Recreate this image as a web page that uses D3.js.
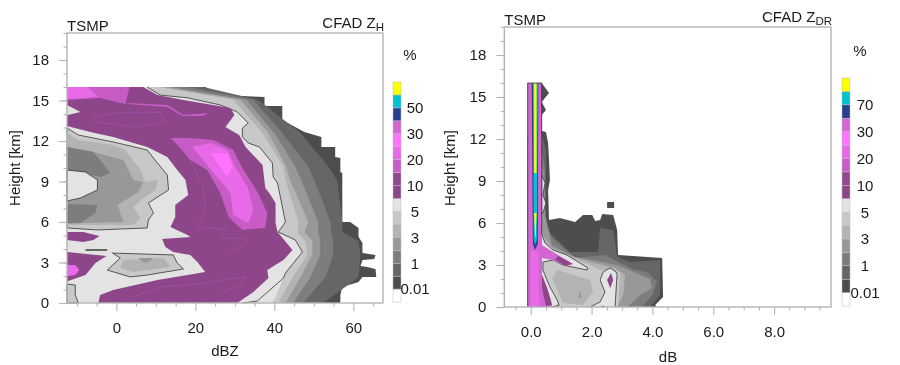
<!DOCTYPE html>
<html>
<head>
<meta charset="utf-8">
<script src="https://cdn.jsdelivr.net/npm/d3@7"></script>
<style>
  html, body { margin: 0; background: #fff; }
  #chart { filter: blur(0.4px); }
  text { font-family: "Liberation Sans", sans-serif; fill: #1a1a1a; }
</style>
</head>
<body>
<svg id="chart" width="900" height="365"></svg>
<script>
// colour bar, bottom box to top box
const barColors = ["#ffffff", "#4d4d4d", "#666666", "#7d7d7d", "#989898", "#b3b3b3", "#c8c8c8", "#e3e3e3",
  "#8c4689", "#8e4a8e", "#c75cc7", "#e86ae8", "#ff73ff", "#d466d4", "#26408f", "#00c4cc", "#ffff00"]
const barLabelsZh = ["0.01", "1", "3", "5", "10", "20", "30", "50"]
const barLabelsZdr = ["0.01", "1", "3", "5", "10", "20", "30", "70"]

const heightMajor = [0, 3, 6, 9, 12, 15, 18]
const heightMinor = d3.range(0, 21)
const dbzMajor = [0, 20, 40, 60]
const dbzMinor = [-10, -5, 5, 10, 15, 25, 30, 35, 45, 50, 55, 65]
const dbMajor = [0, 2, 4, 6, 8]
const dbMinor = [-0.5, 0.5, 1, 1.5, 2.5, 3, 3.5, 4.5, 5, 5.5, 6.5, 7, 7.5, 8.5, 9, 9.5]

// ---- ZH panel: [dBZ, km] ----
const zhEnvelope = [[22.5, 16], [26.3, 15.4], [37.5, 15.26], [37.5, 14.6], [42, 14.6], [42, 13.56], [47.6, 12.67], [51.9, 12.3],
  [51.9, 11.56], [55.4, 11.56], [55.4, 10.81], [56.7, 10.74], [56.7, 9.7], [57.2, 9.63], [57.2, 6], [59.2, 6], [61.3, 5.56], [61.3, 4.9],
  [62.3, 4.44], [62.3, 3.7], [65.6, 3.56], [65.3, 3.26], [62.3, 3.19], [61.8, 2.74], [63.5, 2.67], [65.6, 2.52], [65.8, 1.93],
  [62.3, 1.93], [61.3, 1.56], [57.2, 1.19], [56.7, 0.59], [56.7, 0]]
const zhBandKm = [0, 1.9, 3.55, 4.6, 5.25, 6, 9.1, 10.1, 12.6, 15.05, 16]
const zhBand66 = [52.4, 61.3, 61.8, 61.3, 57.2, 57.2, 55.9, 53.7, 46.6, 35.9, 22]
const zhBand7d = [47.3, 52.9, 54.9, 54.9, 54.4, 54.2, 50.1, 48.6, 42, 34.7, 18]
const zhBand98 = [44.8, 49.1, 51.6, 51.6, 51.1, 51.1, 46.8, 45.3, 40, 32.9, 13.7]
const zhBandB3 = [42.8, 46.6, 49.6, 49.6, 47.6, 48.6, 44, 43, 38.5, 31.4, 11.9]
const zhBandC8 = [41, 44.6, 48.4, 47.8, 45.8, 46.1, 42.8, 42.3, 37, 29.6, 10.6]

const zhContour = [[7.8, 16], [11.1, 15.4], [18, 15.2], [26.3, 14.67], [30.6, 14.15], [33.4, 13.33], [31.9, 12.96], [31.9, 12.3],
  [33.4, 11.85], [36.2, 11.56], [39.5, 10.37], [39.7, 9.33], [40.8, 8.89], [42.8, 6], [41, 5.26], [45.3, 4.67], [47.1, 3.78],
  [42.8, 2.22], [42.3, 1.85], [35.7, 0.15], [32.2, 0]]
const zhLightBottom = [[42.8, 2.22], [42.3, 1.85], [40.5, 0.6], [39.5, 0], [32, 0]]
const zhPurple = [[6.8, 16], [10.4, 15.4], [17, 15.04], [28.9, 14.44], [29.9, 13.93], [27.6, 13.04], [31.1, 12.44], [32.7, 11.56],
  [37, 10.22], [37.7, 8.52], [38.7, 8.15], [40.3, 7.41], [40.3, 5.93], [40.8, 5.26], [44.6, 3.93], [42.3, 3.19], [38.2, 2.44],
  [38.5, 1.85], [34.7, 0.81], [30.6, 0]]
const zhHole = [[-12.5, 13.11], [-6.6, 12.67], [-0.8, 12.3], [7.8, 11.56], [12.9, 10.81], [15.4, 9.85], [17.5, 9.11], [18.2, 8],
  [14.9, 7.26], [14.9, 6.37], [13.7, 5.63], [18, 5.04], [18.7, 4.89], [11.6, 4.74], [12.4, 4.15], [14.4, 3.78], [18.7, 3.56],
  [20.5, 3.04], [22.5, 2.3], [18, 2.07], [10.4, 1.7], [-0.8, 0.96], [-4.1, 0.59], [-4.6, 0], [-12.5, 0]]
const zhWedge = [[-12.5, 14.67], [-9.1, 14.15], [-12.2, 13.93], [-12.5, 13.93]]
const zhBlob1 = [[-12.5, 5.26], [-8.4, 5.26], [-4.3, 4.96], [-5.8, 4.67], [-8.4, 4.52], [-12.5, 4.67]]
const zhBlob2 = [[-12.5, 3.78], [-2.5, 3.48], [-5.3, 2.96], [-7.8, 2.07], [-12.2, 1.63], [-12.5, 1.56]]
const zhBlob2Pink = [[-12.5, 2.81], [-10.4, 2.81], [-9.4, 2.44], [-10.4, 2.07], [-12.2, 2], [-12.5, 2]]
const zhGrayC8 = [[-12.5, 12.96], [-9.6, 12.44], [-0.8, 11.93], [7.8, 11.33], [10.4, 10.37], [12.9, 9.48], [13.2, 8.37], [8.1, 7.41],
  [9.4, 6.67], [8.1, 6.15], [7.8, 5.56], [-4.8, 5.41], [-12.5, 5.56]]
const zhGrayB3 = [[-12.5, 12.59], [-9.6, 12.07], [-0.8, 11.7], [2.3, 11.33], [6.1, 9.85], [7.3, 8.96], [10.4, 9.11], [9.9, 8.37],
  [6.8, 7.78], [4.3, 7.11], [6.1, 6.3], [4.3, 5.78], [-12.5, 5.78]]
const zhGray98 = [[-12.5, 11.56], [-5.8, 11.19], [1.8, 10.59], [4.3, 9.11], [6.8, 8.96], [5.6, 8.22], [0.3, 7.26], [1.8, 6],
  [-8.4, 5.93], [-12.5, 5.85]]
const zhGray7dTop = [[-12.5, 11.56], [-5.8, 11.19], [-1.5, 9.63], [-4, 9.33], [-12.5, 9.85]]
const zhGray7dLow = [[-12.5, 7.33], [-4.8, 7.26], [-5.3, 6.67], [-9.1, 5.93], [-12.5, 5.93]]
const zhInnerLight = [[-12.5, 9.85], [-7.8, 9.7], [-4.8, 9.11], [-4.8, 8.37], [-9.1, 7.78], [-12.5, 7.56]]
const zhLowC8 = [[-1, 3.7], [14.4, 3.56], [15.4, 2.96], [17, 2.52], [7.8, 2.07], [3.5, 1.93], [-2.3, 2.44], [1, 3.33]]
const zhLowB3 = [[1.8, 3.19], [11.9, 3.33], [13.7, 2.67], [4.3, 2.3], [1, 2.59]]
const zhLow98 = [[5.6, 3.33], [9.4, 3.33], [7.8, 2.96], [6.6, 3.04]]
const zhStreak = [[-7.8, 4], [-2.3, 4], [-2.3, 3.85], [-7.8, 3.85]]
const zhCorner = [[-12.5, 1.41], [-10.4, 1.33], [-10.4, 0.59], [-9.6, 0], [-12.5, 0]]
const zhTopPink = [[-12.5, 16], [3.3, 16], [2.3, 14.74], [-4.1, 15.19], [-12.5, 15.04]]
const zhTopBright = [[-12.5, 16], [-7.3, 16], [-4.6, 15.26], [-12.5, 15.11]]
const zhTopStreak = [[2.8, 14.81], [12.9, 14.67], [17, 13.93], [23.3, 14.07], [22, 13.85], [16.7, 13.85], [12.9, 14.52], [2.8, 14.74]]
const zhCoreOuter = [[13.7, 12.22], [18.7, 12.22], [24.6, 12.07], [29.6, 11.33], [31.9, 10], [35.9, 8.15], [38.2, 6.67], [37.7, 5.56],
  [31.9, 5.41], [28.4, 6.37], [26.3, 8.15], [23, 9.85], [18.7, 10.59], [16.2, 11.48]]
const zhCoreMid = [[19.2, 11.56], [23.8, 11.85], [28.1, 11.33], [30.1, 10.07], [33.2, 8.59], [34.7, 6.89], [33.4, 5.93], [29.6, 6.52],
  [28.9, 8.15], [24.6, 9.63], [22, 10.59]]
const zhCoreInner = [[23.8, 11.11], [28.1, 11.11], [29.4, 10.07], [28.1, 9.33], [25.6, 10.37]]
const zhFaint1 = [[-5.8, 13.78], [-0.8, 14.07], [11.1, 14.15], [12.4, 13.41], [5.3, 13.04], [-5.3, 13.41]]
const zhFaint2 = [[26.3, 4.81], [33.2, 4.81], [33.2, 4.44], [28.9, 3.78]]
const zhFaint3 = [[4.3, 0.44], [11.1, 1.19], [23, 1.48], [26.3, 1.7], [32.7, 1.93], [31.4, 1.33], [26.3, 0.74]]
const zhFaint4 = [[17, 11.56], [22, 8.59], [22.5, 6.89], [20.5, 5.63], [28.1, 5.41]]

// ---- ZDR panel: [dB, km] ----
const zdrEnvelope = [[0.36, 16], [0.6, 15.29], [0.36, 14.64], [0.5, 14.07], [0.36, 13.71], [0.36, 12.57], [0.5, 12.5], [0.57, 11.71],
  [0.6, 10.5], [0.63, 9.07], [0.57, 8.36], [0.6, 6.21], [0.96, 6.36], [1.46, 6.07], [1.72, 6.57], [2.02, 6.57], [2.12, 6.14],
  [2.28, 6.21], [2.35, 6.64], [2.71, 6.57], [2.84, 5.5], [2.87, 3.71], [3.6, 3.6], [4.32, 3.5], [4.35, 0.71], [4.09, 0.14], [4.15, 0],
  [-0.1, 0], [-0.1, 16]]
const zdrFloater = [[2.51, 7.5], [2.74, 7.5], [2.74, 7.07], [2.51, 7.07]]
const zdrBand66 = [[0.36, 12.29], [0.5, 11.21], [0.5, 8.71], [0.5, 6.57], [0.63, 5.29], [1.29, 3.93], [2.21, 3.93], [2.28, 5.64],
  [2.71, 5.5], [2.84, 3.57], [3.27, 3.21], [4.25, 3.36], [4.25, 0.86], [3.92, 0], [-0.1, 0], [-0.1, 12.29]]
const zdrBand7d = [[0.36, 11.21], [0.47, 9.79], [0.47, 6.07], [0.7, 4.93], [1.46, 3.5], [2.44, 3.71], [2.87, 3.21], [3.43, 2.64],
  [3.83, 2.5], [4.15, 1.79], [3.99, 0.86], [3.66, 0], [-0.1, 0], [-0.1, 11.21]]
const zdrBand98 = [[0.36, 10.14], [0.44, 9.4], [0.47, 6.5], [0.7, 4.4], [1.46, 3.57], [2.84, 3], [3.92, 2], [3.99, 1.36], [3.6, 0.86],
  [3.17, 0], [-0.1, 0], [-0.1, 10.14]]
const zdrBandB3 = [[0.4, 5.14], [0.7, 4.21], [1.39, 3.57], [1.95, 3.21], [2.77, 2.79], [3.1, 2.29], [3.04, 0.86], [2.84, 0], [-0.1, 0],
  [-0.1, 5.14]]
const zdrBandC8 = [[0.4, 4.79], [0.7, 4], [1.29, 3.5], [1.95, 3], [2.28, 2.64], [2.94, 2.5], [2.87, 0], [-0.1, 0], [-0.1, 4.79]]
const zdrInnerB3 = [[0.87, 2.64], [1.95, 1.93], [2.05, 1.07], [1.72, 0.14], [1.06, 0.29], [0.7, 2.07]]
const zdrInner98 = [[1.62, 1.14], [1.69, 0.71], [1.56, 0.64]]
const zdrContourMain = [[0.37, 5.14], [0.47, 4.57], [0.73, 4.07], [1.19, 3.71], [1.88, 2.79], [1.85, 2.64], [1.06, 3], [0.73, 3.36],
  [0.4, 3.21], [0.4, 2.64], [0.63, 1.43], [0.87, 0.5], [0.93, 0.14], [0.7, 0]]
const zdrContourSpot = [[1.95, 0], [2.28, 0.36], [2.44, 1.07], [2.28, 1.93], [2.38, 2.5], [2.61, 2.79], [2.84, 2.43], [2.77, 0]]
const zdrSpotPurple = [[2.64, 2.43], [2.71, 1.93], [2.61, 1.36], [2.51, 1.93]]
const zdrBottomPurple = [[2.28, 0], [2.38, 0.1], [2.44, 0]]
const zdrContourUpper = [[0.36, 9.43], [0.47, 8.86], [0.4, 8], [0.5, 7.43], [0.4, 6.71], [0.36, 6.71]]
const zdrPink = [[-0.1, 16], [0.36, 16], [0.37, 4.43], [0.63, 4.07], [1.06, 3.5], [1.29, 3.21], [1.13, 2.93], [0.73, 3.36], [0.37, 3.5],
  [0.37, 2.29], [0.63, 0.71], [0.7, 0.07], [0.7, 0], [-0.1, 0]]
const zdrPinkCore = [[0, 4], [0.25, 4], [0.25, 1.5], [0.3, 0], [0, 0]]
const zdrStripe = [[0.37, 2.29], [0.54, 1.36], [0.7, 0.14], [0.5, 0.07], [0.37, 1.36]]
const zdrTip = [[0.9, 3.64], [1.39, 3.07], [1.13, 2.93], [0.8, 3.4]]
const zdrNavy = [[0.03, 16], [0.25, 16], [0.23, 4.5], [0.14, 4.07], [0.07, 4.5]]
const zdrCyan = [[0.07, 16], [0.23, 16], [0.2, 4.8], [0.14, 4.43], [0.1, 4.8]]
const zdrYellowTop = [[0.11, 16], [0.19, 16], [0.19, 9.57], [0.11, 9.57]]
const zdrYellowLow = [[0.11, 6.71], [0.19, 6.71], [0.16, 5], [0.14, 5]]
const zdrColumnLeft = [[-0.1, 0], [-0.1, 16], [0.36, 16], [0.36, 5.14]]

const [WHITE, G4D, G66, G7D, G98, GB3, GC8, GE3, PUR1, PUR2, PINK1, PINK2, PINK3, PINK4, NAVY, CYAN, YELLOW] = barColors
const LINE = "#333333"
const FRAME = "#b4b4b4"

const svg = d3.select("#chart")

// edge values by height, top row first
const profile = (km, edge) => km.map((h, i) => [edge[i], h]).reverse()
// close a polygon against the left side of the ZH panel
const toLeft = (pts, xMin) => [...pts, [xMin, 0], [xMin, pts[0][1]]]

function drawPanel(p) {
  const x = d3.scaleLinear().domain(p.xDomain).range(p.xRange)
  const y = d3.scaleLinear().domain([0, 20]).range(p.yRange)
  const g = svg.append("g")
  const line = d3.line().x((d) => x(d[0])).y((d) => y(d[1]))

  g.append("g").selectAll("path")
    .data(p.layers)
    .join("path")
    .attr("d", (d) => line(d.pts) + (d.open ? "" : "Z"))
    .attr("fill", (d) => d.fill || "none")
    .attr("stroke", (d) => d.stroke || "none")
    .attr("stroke-width", (d) => d.sw || 0.8)
    .attr("stroke-opacity", (d) => d.so || 1)
    .attr("stroke-linejoin", "round")

  const left = p.xRange[0]
  const bottom = p.yRange[0]
  const styleAxis = (a) => {
    a.select(".domain").remove()
    a.selectAll("line").attr("stroke", FRAME).attr("stroke-width", 1.1)
  }

  g.append("g").attr("transform", `translate(${left},0)`)
    .call(d3.axisLeft(y).tickValues(heightMinor).tickSize(3.5).tickFormat(""))
    .call(styleAxis)
  g.append("g").attr("transform", `translate(${left},0)`)
    .call(d3.axisLeft(y).tickValues(heightMajor).tickSize(8).tickPadding(10))
    .call(styleAxis)
    .call((a) => a.selectAll("text").attr("font-size", 15))
  g.append("g").attr("transform", `translate(0,${bottom})`)
    .call(d3.axisBottom(x).tickValues(p.xMinor).tickSize(3.5).tickFormat(""))
    .call(styleAxis)
  g.append("g").attr("transform", `translate(0,${bottom})`)
    .call(d3.axisBottom(x).tickValues(p.xMajor).tickSize(8).tickPadding(11).tickFormat(p.xFormat))
    .call(styleAxis)
    .call((a) => a.selectAll("text").attr("font-size", 15))

  g.append("rect")
    .attr("x", left).attr("y", p.yRange[1])
    .attr("width", p.xRange[1] - left).attr("height", bottom - p.yRange[1])
    .attr("fill", "none").attr("stroke", FRAME).attr("stroke-width", 1.4)

  g.append("text").attr("x", left).attr("y", p.yRange[1] - 2.5).attr("font-size", 15).text("TSMP")
  const title = g.append("text").attr("x", p.xRange[1] + 1).attr("y", p.yRange[1] - 5)
    .attr("text-anchor", "end").attr("font-size", 15)
  title.append("tspan").text("CFAD Z")
  title.append("tspan").attr("font-size", 11.5).attr("dy", 3).text(p.sub)

  g.append("text").attr("x", p.xLabelAt).attr("y", p.xLabelY).attr("text-anchor", "middle").attr("font-size", 15).text(p.xLabel)
  g.append("text")
    .attr("transform", `translate(${p.yLabelX},${p.yLabelY}) rotate(-90)`)
    .attr("text-anchor", "middle").attr("font-size", 15).text("Height [km]")

  // colour bar
  const band = d3.scaleBand().domain(d3.range(barColors.length)).range(p.barY)
  g.append("g").selectAll("rect")
    .data(barColors)
    .join("rect")
    .attr("x", p.barX).attr("y", (d, i) => band(i))
    .attr("width", 8).attr("height", band.bandwidth())
    .attr("fill", (d) => d)
    .attr("stroke", "#bdbdbd").attr("stroke-width", 0.5)
  // labels sit on the top edge of every other box
  g.append("g").selectAll("text")
    .data(p.barLabels)
    .join("text")
    .attr("x", p.barLabelX)
    .attr("y", (d, i) => band(2 * i))
    .attr("dy", "0.36em")
    .attr("text-anchor", "middle").attr("font-size", 15)
    .text((d) => d)
  g.append("text").attr("x", p.barLabelX - 5).attr("y", p.barY[1] - 22).attr("text-anchor", "middle").attr("font-size", 15).text("%")
}

const zhMin = -12.5
const zhLayers = [
  {pts: zhEnvelope.concat([[zhMin, 0], [zhMin, 16]]), fill: G4D},
  {pts: toLeft(profile(zhBandKm, zhBand66), zhMin), fill: G66},
  {pts: toLeft(profile(zhBandKm, zhBand7d), zhMin), fill: G7D},
  {pts: toLeft(profile(zhBandKm, zhBand98), zhMin), fill: G98},
  {pts: toLeft(profile(zhBandKm, zhBandB3), zhMin), fill: GB3},
  {pts: toLeft(profile(zhBandKm, zhBandC8), zhMin), fill: GC8},
  {pts: toLeft(zhContour, zhMin), fill: GE3},
  {pts: toLeft(zhLightBottom, zhMin), fill: GE3},
  {pts: zhContour, stroke: LINE, open: true},
  {pts: toLeft(zhPurple, zhMin), fill: PUR1},
  {pts: zhHole, fill: GE3},
  {pts: zhWedge, fill: GE3},
  {pts: zhBlob1, fill: PUR1},
  {pts: zhBlob2, fill: PUR1},
  {pts: zhBlob2Pink, fill: PINK2},
  {pts: zhGrayC8, fill: GC8, stroke: LINE},
  {pts: zhGrayB3, fill: GB3},
  {pts: zhGray98, fill: G98},
  {pts: zhGray7dTop, fill: G7D},
  {pts: zhGray7dLow, fill: G7D},
  {pts: zhInnerLight, fill: GE3, stroke: LINE},
  {pts: zhLowC8, fill: GC8, stroke: LINE},
  {pts: zhLowB3, fill: GB3},
  {pts: zhLow98, fill: G98},
  {pts: zhStreak, fill: G66},
  {pts: zhCorner, fill: GC8, stroke: LINE},
  {pts: zhTopPink, fill: PINK1},
  {pts: zhTopBright, fill: PINK2},
  {pts: zhTopStreak, fill: PINK1},
  {pts: zhCoreOuter, fill: PINK1},
  {pts: zhCoreMid, fill: PINK2},
  {pts: zhCoreInner, fill: PINK3},
  {pts: zhFaint1, stroke: PINK1, sw: 0.6, so: 0.6},
  {pts: zhFaint2, stroke: PINK1, sw: 0.6, so: 0.6, open: true},
  {pts: zhFaint3, stroke: PINK1, sw: 0.6, so: 0.6, open: true},
  {pts: zhFaint4, stroke: PINK1, sw: 0.6, so: 0.6, open: true},
]

const zdrLayers = [
  {pts: zdrEnvelope, fill: G4D},
  {pts: zdrFloater, fill: G4D},
  {pts: zdrBand66, fill: G66},
  {pts: zdrBand7d, fill: G7D},
  {pts: zdrBand98, fill: G98},
  {pts: zdrBandB3, fill: GB3},
  {pts: zdrBandC8, fill: GC8},
  {pts: zdrInnerB3, fill: GB3},
  {pts: zdrInner98, fill: G98},
  {pts: zdrContourSpot, fill: GE3},
  {pts: zdrContourSpot, stroke: LINE, open: true},
  {pts: zdrSpotPurple, fill: PUR1},
  {pts: zdrBottomPurple, fill: PUR1},
  {pts: zdrContourMain.concat([[-0.1, 0], [-0.1, 5.14]]), fill: GE3},
  {pts: zdrContourMain, stroke: LINE, open: true},
  {pts: zdrContourUpper, fill: GE3, stroke: LINE},
  {pts: zdrPink, fill: PINK4},
  {pts: zdrPinkCore, fill: PINK2},
  {pts: zdrStripe, fill: PUR1},
  {pts: zdrTip, fill: PUR1},
  {pts: zdrNavy, fill: NAVY},
  {pts: zdrCyan, fill: CYAN},
  {pts: zdrYellowTop, fill: YELLOW},
  {pts: zdrYellowLow, fill: YELLOW},
  {pts: zdrColumnLeft, stroke: LINE, open: true},
]

drawPanel({
  xDomain: [zhMin, 67.5], xRange: [67, 383], yRange: [303, 33],
  xMajor: dbzMajor, xMinor: dbzMinor, xFormat: d3.format("d"),
  xLabel: "dBZ", xLabelAt: 225, xLabelY: 356, yLabelX: 20, yLabelY: 168,
  sub: "H", layers: zhLayers,
  barX: 393, barY: [302, 82], barLabels: barLabelsZh, barLabelX: 415,
})

drawPanel({
  xDomain: [-0.87, 9.87], xRange: [504.3, 831], yRange: [307, 27],
  xMajor: dbMajor, xMinor: dbMinor, xFormat: d3.format(".1f"),
  xLabel: "dB", xLabelAt: 668, xLabelY: 362, yLabelX: 455, yLabelY: 168,
  sub: "DR", layers: zdrLayers,
  barX: 842, barY: [306, 78], barLabels: barLabelsZdr, barLabelX: 865,
})
</script>
</body>
</html>
